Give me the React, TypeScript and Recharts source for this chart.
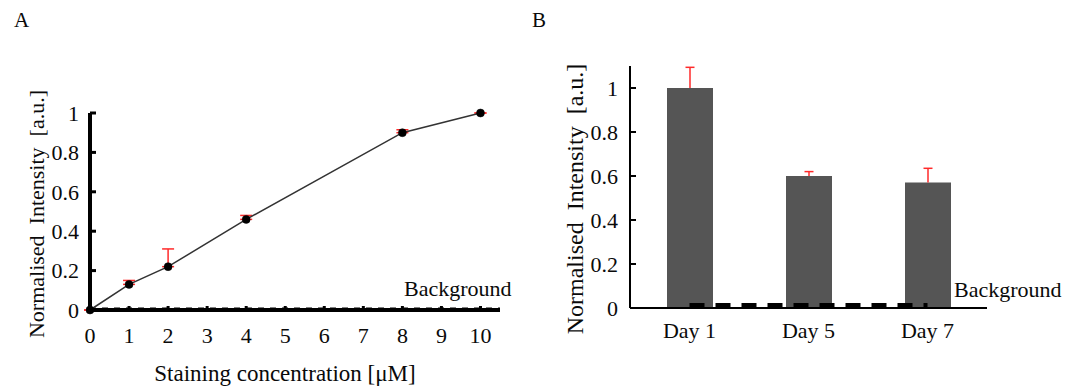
import React from 'react';
import {
  ComposedChart,
  Line,
  Bar,
  XAxis,
  YAxis,
  ErrorBar,
  ReferenceLine,
} from 'recharts';

// Panel A: intensity vs staining concentration
const concentrations = [0, 1, 2, 4, 8, 10];
const intensityA = [0, 0.13, 0.22, 0.46, 0.9, 1.0];
const errorA = [0, 0.02, 0.09, 0.02, 0.015, 0];
const backgroundA = 0.008;
const xTicksA = [0, 1, 2, 3, 4, 5, 6, 7, 8, 9, 10];

// Panel B: intensity over days
const days = ['Day 1', 'Day 5', 'Day 7'];
const intensityB = [1.0, 0.6, 0.57];
const errorB = [0.094, 0.02, 0.065];
const backgroundB = 0.014;

const yTicks = [0, 0.2, 0.4, 0.6, 0.8, 1];

const FONT = '"Liberation Serif", "DejaVu Serif", serif';
const RED = '#ff2a2a';
const INK = '#0a0a0a';

const dataA = concentrations.map((c, i) => ({
  conc: c,
  value: intensityA[i],
  err: [0, errorA[i]],
}));

const dataB = days.map((d, i) => ({
  day: d,
  value: intensityB[i],
  err: errorB[i],
  bg: backgroundB,
}));

const Y_LABEL = 'Normalised\u00a0\u00a0Intensity\u00a0\u00a0[a.u.]';

// inward tick marks, labels outside
const makeYTick = (margin: number, width: number) => (props: any) => {
  const { x, y, payload } = props;
  return (
    <g>
      <line x1={x + margin} x2={x + margin + 6} y1={y} y2={y} stroke="#000" strokeWidth={width} />
      <text x={x} y={y} dy="0.35em" textAnchor="end" fill={INK} fontSize={22} fontFamily={FONT}>
        {payload.value}
      </text>
    </g>
  );
};

const XTickA = (props: any) => {
  const { x, y, payload } = props;
  return (
    <g>
      <line x1={x} x2={x} y1={y - 17} y2={y - 21} stroke="#000" strokeWidth={3} />
      <text x={x} y={y} dy="0.71em" textAnchor="middle" fill={INK} fontSize={22} fontFamily={FONT}>
        {payload.value}
      </text>
    </g>
  );
};

// rotated y title, placed relative to the axis box
const makeYTitle = (cx: number, dy: number, size: number) => (props: any) => {
  const { x, y, height } = props.viewBox;
  const px = x + cx;
  const py = y + height / 2 + dy;
  return (
    <text
      x={px}
      y={py}
      transform={`rotate(-90 ${px} ${py})`}
      textAnchor="middle"
      dominantBaseline="central"
      fill={INK}
      fontSize={size}
      fontFamily={FONT}
    >
      {Y_LABEL}
    </text>
  );
};

// upper-only whisker drawn on a stacked segment
const Whisker = (props: any) => {
  const { x, y, width, height } = props;
  const cx = x + width / 2;
  return (
    <g>
      <line x1={cx} x2={cx} y1={y} y2={y + height} stroke={RED} strokeWidth={1.5} />
      <line x1={cx - 4.5} x2={cx + 4.5} y1={y} y2={y} stroke={RED} strokeWidth={1.5} />
    </g>
  );
};

const textStyle: React.CSSProperties = {
  position: 'absolute',
  fontFamily: FONT,
  fontSize: 22,
  lineHeight: 1,
  color: INK,
  whiteSpace: 'nowrap',
};

export default function App() {
  return (
    <div style={{ position: 'absolute', left: 0, top: 0, width: 1067, height: 390, background: '#fff' }}>
      <div style={{ ...textStyle, fontSize: 21, left: 14, top: 10 }}>A</div>
      <div style={{ ...textStyle, fontSize: 21, left: 532, top: 10 }}>B</div>

      <div style={{ position: 'absolute', left: 0, top: 0 }}>
        <ComposedChart
          width={530}
          height={390}
          data={dataA}
          margin={{ top: 113, right: 30, bottom: 50, left: 30 }}
        >
          <XAxis
            dataKey="conc"
            type="number"
            domain={[0, 10.5]}
            ticks={xTicksA}
            height={30}
            axisLine={{ stroke: '#000', strokeWidth: 4 }}
            tickLine={false}
            tickSize={0}
            tickMargin={17}
            tick={<XTickA />}
            label={{
              value: 'Staining concentration [\u03bcM]',
              position: 'bottom',
              offset: 25,
              dx: -10,
              fill: INK,
              fontSize: 23,
              fontFamily: FONT,
            }}
          />
          <YAxis
            domain={[0, 1]}
            ticks={yTicks}
            width={60}
            axisLine={{ stroke: '#000', strokeWidth: 4 }}
            tickLine={false}
            tickSize={0}
            tickMargin={11}
            tick={makeYTick(11, 3)}
            label={{ content: makeYTitle(6, 2.5, 22) }}
          />
          <ReferenceLine y={backgroundA} stroke="#000" strokeWidth={2} strokeDasharray="6 6" />
          <Line
            dataKey="value"
            stroke="#333"
            strokeWidth={1.5}
            dot={false}
            isAnimationActive={false}
          >
            <ErrorBar dataKey="err" direction="y" width={6} stroke={RED} strokeWidth={1.5} isAnimationActive={false} />
          </Line>
          <Line
            dataKey="value"
            stroke="none"
            dot={{ r: 4, fill: '#000', stroke: '#000', strokeWidth: 0.5 }}
            legendType="none"
            isAnimationActive={false}
          />
        </ComposedChart>
      </div>
      <div style={{ ...textStyle, left: 404, top: 278 }}>Background</div>

      <div style={{ position: 'absolute', left: 530, top: 0 }}>
        <ComposedChart
          width={537}
          height={390}
          data={dataB}
          margin={{ top: 66, right: 80, bottom: 52, left: 40 }}
        >
          <XAxis
            dataKey="day"
            height={30}
            axisLine={{ stroke: '#000', strokeWidth: 2 }}
            tickLine={false}
            tickSize={0}
            tickMargin={14}
            tick={{ fill: INK, fontSize: 22, fontFamily: FONT }}
          />
          <YAxis
            domain={[0, 1.1]}
            ticks={yTicks}
            width={60}
            axisLine={{ stroke: '#000', strokeWidth: 2 }}
            tickLine={false}
            tickSize={0}
            tickMargin={12}
            tick={makeYTick(12, 2)}
            label={{ content: makeYTitle(5, 12, 24) }}
          />
          <Bar dataKey="value" stackId="s" fill="#555" barSize={46} isAnimationActive={false} />
          <Bar dataKey="err" stackId="s" fill="none" barSize={46} shape={<Whisker />} isAnimationActive={false} />
          <Line
            dataKey="bg"
            stroke="#000"
            strokeWidth={4}
            strokeDasharray="15 11"
            dot={false}
            isAnimationActive={false}
          />
        </ComposedChart>
      </div>
      <div style={{ ...textStyle, left: 954, top: 279 }}>Background</div>
    </div>
  );
}
